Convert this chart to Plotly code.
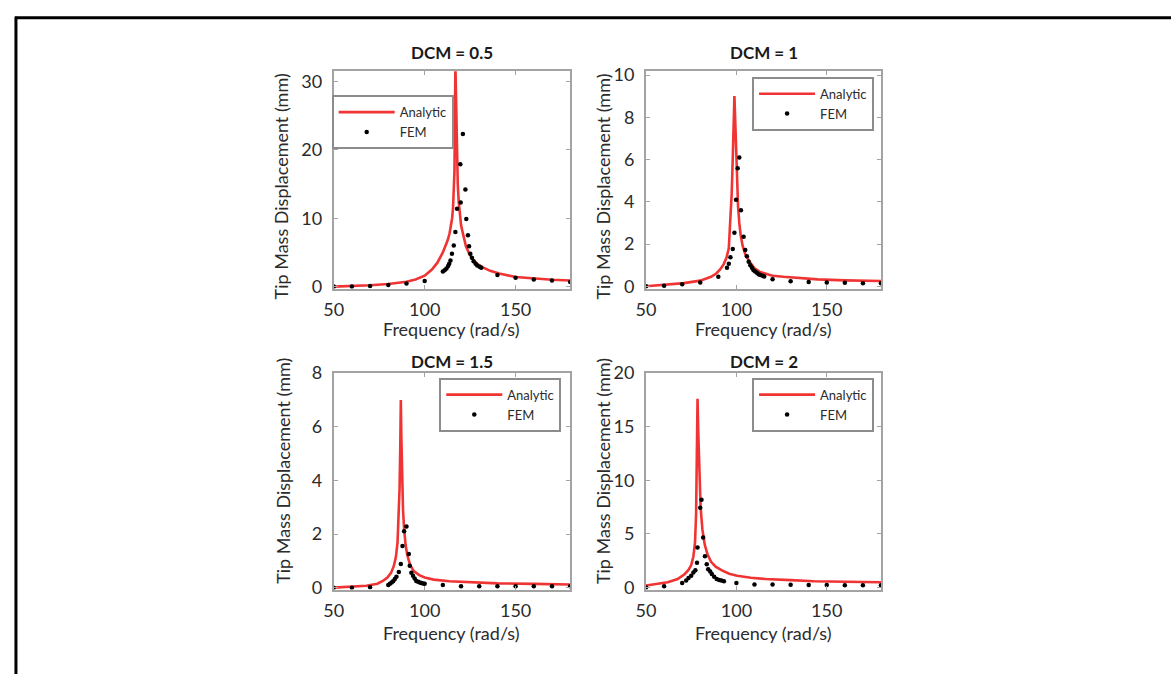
import plotly.graph_objects as go

W, H = 1171, 682

# ---------------- data ----------------
titles = ["DCM = 0.5", "DCM = 1", "DCM = 1.5", "DCM = 2"]

an1_x = [50, 60, 70, 80, 90, 95, 100, 104, 107, 110, 111.5, 112.7, 113.7, 114.5, 115.1, 115.6, 116.0, 116.4, 116.9, 117.3, 117.7, 118.2, 118.7, 119.2, 120, 121, 122.7, 124.5, 126.3, 129, 132, 136, 141, 150, 160, 170, 180]
an1_y = [0.0, 0.08, 0.2, 0.38, 0.7, 1.05, 1.6, 2.5, 3.5, 5.0, 5.9, 6.8, 7.8, 8.9, 10.0, 11.5, 13.5, 17, 32.5, 26, 20, 15, 12.5, 10.8, 9.0, 7.8, 5.9, 4.8, 4.0, 3.3, 2.8, 2.3, 1.9, 1.4, 1.15, 1.0, 0.9]
fem1_x = [50, 60, 70, 80, 90, 100, 110, 111, 112, 112.9, 113.5, 114.2, 115, 116, 116.9, 117.8, 119.6, 119.8, 121, 122.4, 122.9, 123.8, 124.4, 125.1, 126, 126.9, 128, 128.9, 130.2, 131.1, 140, 150, 160, 170, 180]
fem1_y = [0, 0.02, 0.1, 0.24, 0.47, 0.8, 2.2, 2.4, 2.65, 3.0, 3.35, 3.8, 4.8, 6.0, 8.0, 11.4, 17.9, 12.3, 22.3, 14.2, 9.9, 7.5, 5.9, 4.8, 4.2, 3.7, 3.35, 3.1, 2.9, 2.75, 1.7, 1.28, 1.04, 0.9, 0.67]

an2_x = [50, 60, 71, 80, 86, 89, 91, 93, 94.5, 95.8, 96.7, 97.4, 98, 98.5, 98.9, 99.3, 99.8, 100.3, 100.9, 101.6, 102.4, 103.5, 105, 107.7, 110, 113, 120, 126, 135, 145, 160, 180]
an2_y = [0.0, 0.07, 0.15, 0.27, 0.45, 0.62, 0.8, 1.05, 1.35, 1.8, 3.0, 4.4, 6.1, 7.8, 9.0, 8.0, 6.5, 5.0, 3.8, 3.0, 2.4, 1.9, 1.5, 1.11, 0.85, 0.68, 0.5, 0.45, 0.38, 0.33, 0.28, 0.25]
fem2_x = [50, 60, 70, 80, 90, 94.8, 95.8, 96.7, 98, 98.9, 99.8, 100.7, 101.6, 102.5, 104, 104.9, 105.8, 106.8, 107.7, 108.6, 109.5, 110.4, 111.3, 112.3, 113.2, 114.5, 115.4, 120, 130, 140, 150, 160, 170, 180]
fem2_y = [0, 0.03, 0.1, 0.18, 0.45, 0.88, 1.07, 1.37, 1.77, 2.54, 4.1, 5.59, 6.1, 3.6, 2.34, 1.72, 1.42, 1.16, 1.0, 0.88, 0.76, 0.7, 0.64, 0.57, 0.54, 0.5, 0.47, 0.34, 0.24, 0.2, 0.18, 0.17, 0.15, 0.15]

an3_x = [50, 60, 68, 74, 77, 79.5, 81.5, 83, 84.2, 85.1, 85.7, 86.2, 86.6, 86.9, 87.2, 87.6, 88.1, 88.7, 89.5, 90.5, 92, 94, 97, 100, 105, 113.6, 125, 140, 160, 180]
an3_y = [0.0, 0.03, 0.07, 0.15, 0.25, 0.38, 0.55, 0.8, 1.15, 1.7, 2.5, 3.7, 5.3, 7.0, 5.6, 4.0, 2.9, 2.2, 1.6, 1.2, 0.85, 0.62, 0.47, 0.38, 0.3, 0.24, 0.2, 0.16, 0.14, 0.12]
fem3_x = [50, 60, 70, 80, 80.9, 81.8, 82.7, 83.6, 84.5, 85.8, 86.9, 87.8, 88.7, 90, 91.3, 91.8, 92.7, 93.6, 94.5, 95.4, 96.4, 97.3, 98.2, 99.1, 100, 110, 120, 130, 140, 150, 160, 170, 180]
fem3_y = [0, 0, 0.02, 0.1, 0.15, 0.19, 0.24, 0.32, 0.41, 0.58, 0.88, 1.55, 2.1, 2.28, 1.26, 0.82, 0.56, 0.44, 0.34, 0.25, 0.22, 0.19, 0.17, 0.16, 0.15, 0.1, 0.05, 0.05, 0.05, 0.05, 0.05, 0.05, 0.05]

an4_x = [50, 56, 62, 67.5, 71.3, 73.5, 75, 76.2, 77.1, 77.7, 78.1, 78.5, 78.9, 79.4, 80.2, 81.2, 82.5, 84, 86, 88.5, 92, 96, 100.4, 108, 116, 130, 143, 160, 180]
an4_y = [0.2, 0.32, 0.5, 0.8, 1.25, 1.65, 2.1, 2.9, 4.2, 6.8, 11, 17.6, 14.5, 10.9, 7.5, 5.4, 4.0, 3.1, 2.4, 1.95, 1.6, 1.3, 1.1, 0.92, 0.81, 0.7, 0.6, 0.55, 0.5]
fem4_x = [50, 60, 70, 72.2, 73.5, 75, 76.2, 77.3, 78.2, 78.5, 80, 80.7, 81.6, 82.6, 83.6, 84.4, 85.5, 86.4, 87.7, 89.1, 90.4, 91.7, 93.1, 100, 110, 120, 130, 140, 150, 160, 170, 180]
fem4_y = [0, 0.12, 0.42, 0.66, 0.9, 1.11, 1.42, 1.63, 2.32, 3.74, 7.45, 8.2, 4.68, 2.92, 2.17, 1.72, 1.51, 1.27, 1.02, 0.81, 0.72, 0.66, 0.6, 0.42, 0.3, 0.28, 0.26, 0.25, 0.24, 0.23, 0.22, 0.22]

x_ticks = [50, 100, 150]
y_ticks = [[0, 10, 20, 30], [0, 2, 4, 6, 8, 10], [0, 2, 4, 6, 8], [0, 5, 10, 15, 20]]
y_ranges = [[-0.3, 31.5], [-0.11, 10.18], [-0.07, 8.0], [-0.18, 20.0]]
x_range = [50, 180]

# ---------------- layout helpers ----------------
def px(x):
    return x / W

def py(y):
    return 1 - y / H

FONT = "Lato, 'Open Sans', sans-serif"
TXT = "#2b2b2b"
RED = "#f03434"
FRAME = "#a3a3a3"

# plot areas in pixels: (left, right, top, bottom)
boxes = [(326.5, 565, 61, 285), (641.5, 878.5, 61, 285),
         (326.5, 565, 372, 595), (641.5, 878.5, 372, 595)]
legend_center = [(386, 113.5), (810, 94.5), (494.5, 404.5), (810, 404.5)]
ytitle_pos = [(273, 180), (598, 180), (275, 473), (598, 473)]
xtitle_y = [327, 327, 640, 640]
title_y = [42, 42, 360, 360]

data = [(an1_x, an1_y, fem1_x, fem1_y), (an2_x, an2_y, fem2_x, fem2_y),
        (an3_x, an3_y, fem3_x, fem3_y), (an4_x, an4_y, fem4_x, fem4_y)]

fig = go.Figure()
layout = dict(
    width=W, height=H,
    margin=dict(l=0, r=0, t=0, b=0),
    paper_bgcolor="white", plot_bgcolor="white",
    font=dict(family=FONT, color=TXT, size=18),
    annotations=[], shapes=[],
)

for i, (ax, ay, fx, fy) in enumerate(data):
    n = i + 1
    sfx = "" if n == 1 else str(n)
    lg = "legend" if n == 1 else f"legend{n}"
    fig.add_trace(go.Scatter(x=ax, y=ay, mode="lines", name="Analytic",
                             line=dict(color=RED, width=2.6),
                             xaxis=f"x{sfx}", yaxis=f"y{sfx}", legend=lg))
    fig.add_trace(go.Scatter(x=fx, y=fy, mode="markers", name="FEM",
                             marker=dict(color="black", size=4.5),
                             xaxis=f"x{sfx}", yaxis=f"y{sfx}", legend=lg))
    l, r, t, b = boxes[i]
    common = dict(showline=True, linecolor=FRAME, linewidth=2, mirror="ticks",
                  showgrid=False, zeroline=False, ticks="inside", ticklen=4,
                  tickcolor=FRAME, tickwidth=1,
                  tickfont=dict(family=FONT, size=18, color=TXT))
    layout[f"xaxis{sfx}"] = dict(common, domain=[px(l), px(r)], range=x_range,
                                 tickvals=x_ticks, anchor=f"y{sfx}", ticklabelstandoff=4)
    layout[f"yaxis{sfx}"] = dict(common, domain=[py(b), py(t)], range=y_ranges[i],
                                 tickvals=y_ticks[i], anchor=f"x{sfx}", ticklabelstandoff=6)
    lx, ly = legend_center[i]
    layout[lg] = dict(x=px(lx), y=py(ly), xanchor="center", yanchor="middle",
                      bgcolor="white", bordercolor="#8c8c8c", borderwidth=2,
                      font=dict(family=FONT, size=13, color=TXT),
                      itemwidth=56, tracegroupgap=0)
    cx = (l + r) / 2
    layout["annotations"].append(dict(text=f"<b>{titles[i]}</b>", x=px(cx), y=py(title_y[i]),
                                      xref="paper", yref="paper", showarrow=False,
                                      xanchor="center", yanchor="middle",
                                      font=dict(family=FONT, size=17, color="#1a1a1a")))
    layout["annotations"].append(dict(text="Frequency (rad/s)", x=px(cx), y=py(xtitle_y[i]),
                                      xref="paper", yref="paper", showarrow=False,
                                      xanchor="center", yanchor="middle",
                                      font=dict(family=FONT, size=18, color=TXT)))
    tx, ty = ytitle_pos[i]
    layout["annotations"].append(dict(text="Tip Mass Displacement (mm)", x=px(tx), y=py(ty),
                                      xref="paper", yref="paper", showarrow=False,
                                      textangle=-90, xanchor="center", yanchor="middle",
                                      font=dict(family=FONT, size=18, color=TXT)))

# outer frame lines (top and left) of the figure panel
layout["shapes"] = [
    dict(type="line", xref="paper", yref="paper", x0=px(5), x1=1.0, y0=py(6), y1=py(6),
         line=dict(color="black", width=3)),
    dict(type="line", xref="paper", yref="paper", x0=px(6), x1=px(6), y0=0, y1=py(5),
         line=dict(color="black", width=3)),
]

fig.update_layout(**layout)
fig.write_html("out.html")
